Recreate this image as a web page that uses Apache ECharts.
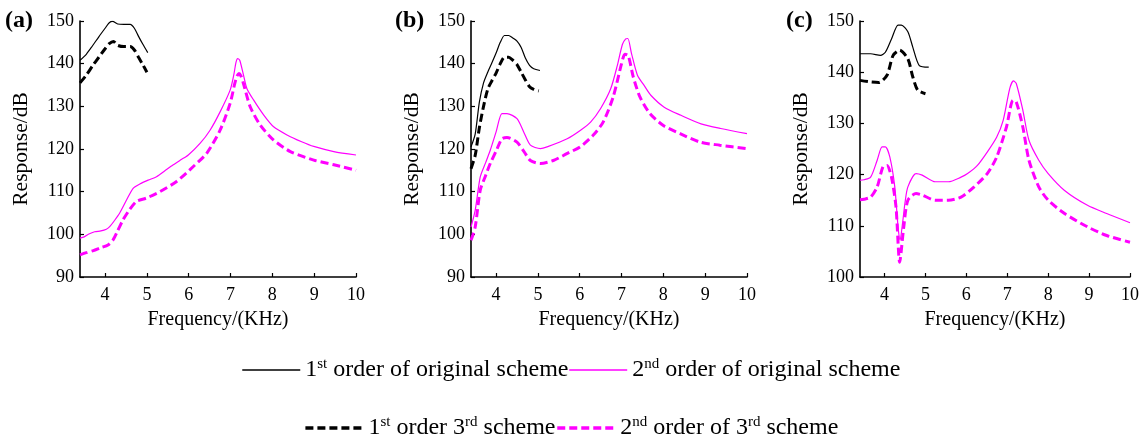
<!DOCTYPE html>
<html>
<head>
<meta charset="utf-8">
<script src="https://cdn.jsdelivr.net/npm/echarts@6/dist/echarts.min.js"></script>
<style>
html,body{margin:0;padding:0;background:#fff;}
#chart{width:1142px;height:440px;}
</style>
</head>
<body>
<div id="chart"></div>
<script>
// ---- series names (legend) ----
const nameFirstOrig = '1st order of original scheme';
const nameSecondOrig = '2nd order of original scheme';
const nameFirstThird = '1st order 3rd scheme';
const nameSecondThird = '2nd order of 3rd scheme';

const panelLabels = ['(a)', '(b)', '(c)'];
const xAxisName = 'Frequency/(KHz)';
const yAxisName = 'Response/dB';
const yRanges = [[90, 150], [90, 150], [100, 150]];

// ---- panel (a) ----
const a_firstOrig = [[3.4,140.8],[3.55,142.2],[3.7,144.2],[3.85,146.3],[4.0,148.3],[4.1,149.6],[4.18,149.9],[4.3,149.3],[4.45,149.2],[4.6,149.2],[4.7,148.3],[4.8,146.4],[4.9,144.6],[5.02,142.6]];
const a_firstThird = [[3.4,135.5],[3.55,137.3],[3.7,139.5],[3.85,141.5],[4.0,143.5],[4.1,144.7],[4.2,145.2],[4.3,144.3],[4.45,144.0],[4.6,144.0],[4.7,143.2],[4.8,141.5],[4.9,139.8],[5.0,138.0]];
const a_secondOrig = [[3.4,99.1],[3.5,99.4],[3.6,100.0],[3.75,100.6],[3.9,100.8],[4.03,101.2],[4.11,101.8],[4.23,103.3],[4.35,105.0],[4.5,107.8],[4.67,110.8],[4.83,111.8],[5.03,112.7],[5.23,113.5],[5.43,114.9],[5.63,116.3],[5.8,117.4],[5.99,118.6],[6.27,121.3],[6.51,124.4],[6.75,128.7],[6.99,133.8],[7.08,137.5],[7.13,140.3],[7.17,141.2],[7.22,140.8],[7.31,137.3],[7.39,134.2],[7.55,131.5],[7.79,128.0],[8.03,125.2],[8.35,123.3],[8.7,121.7],[8.99,120.6],[9.47,119.4],[10,118.6]];
const a_secondThird = [[3.4,95.2],[3.55,95.7],[3.72,96.2],[3.9,96.9],[4.07,97.5],[4.19,98.7],[4.3,100.8],[4.43,103.4],[4.6,106.0],[4.75,107.7],[4.99,108.5],[5.31,110.0],[5.71,112.4],[6.11,115.9],[6.43,119.0],[6.75,124.4],[6.99,130.7],[7.1,135.3],[7.15,137.0],[7.2,137.7],[7.25,137.1],[7.31,135.3],[7.47,129.9],[7.71,125.6],[8.03,122.1],[8.43,119.4],[8.99,117.4],[9.47,116.3],[10,115.0]];

// ---- panel (b) ----
const b_firstOrig = [[3.4,120.5],[3.5,123.5],[3.6,131.0],[3.7,135.5],[3.8,138.0],[3.9,140.2],[4.0,142.5],[4.1,145.0],[4.2,146.6],[4.3,146.6],[4.4,146.0],[4.5,145.3],[4.6,143.8],[4.7,141.3],[4.8,139.6],[4.9,138.8],[5.05,138.4]];
const b_firstThird = [[3.4,115.4],[3.5,118.5],[3.6,125.0],[3.7,130.0],[3.8,134.0],[3.9,136.0],[4.0,137.8],[4.1,140.0],[4.2,141.5],[4.3,141.5],[4.4,140.8],[4.5,139.8],[4.6,138.0],[4.7,136.2],[4.8,134.6],[4.9,134.0],[5.02,133.6]];
const b_secondOrig = [[3.4,101.7],[3.5,105.6],[3.62,113.4],[3.75,116.8],[3.86,119.7],[4.0,124.0],[4.14,128.3],[4.26,128.3],[4.5,127.1],[4.66,124.0],[4.82,120.9],[5.06,120.1],[5.22,120.5],[5.7,122.4],[6.02,124.4],[6.26,126.3],[6.5,129.5],[6.74,134.1],[6.9,139.6],[7.02,144.5],[7.1,145.8],[7.15,145.9],[7.24,142.3],[7.38,137.3],[7.54,134.9],[7.7,132.6],[8.02,129.8],[8.42,127.9],[8.9,125.9],[9.37,124.8],[10,123.6]];
const b_secondThird = [[3.4,98.6],[3.5,101.7],[3.62,110.3],[3.75,113.8],[3.86,116.6],[4.0,119.5],[4.14,122.4],[4.26,122.7],[4.5,121.6],[4.66,119.5],[4.82,117.3],[5.06,116.6],[5.37,117.3],[5.69,118.9],[6.01,120.5],[6.32,123.2],[6.56,126.3],[6.8,132.2],[7.0,140.0],[7.08,142.2],[7.16,141.9],[7.28,136.9],[7.44,132.2],[7.68,128.3],[8.0,125.5],[8.4,123.6],[8.88,121.6],[9.35,120.9],[10,120.1]];

// ---- panel (c) ----
const c_firstOrig = [[3.4,143.6],[3.66,143.6],[3.9,143.3],[4.02,143.9],[4.17,146.5],[4.33,149.2],[4.41,149.2],[4.57,147.9],[4.69,144.9],[4.85,141.3],[5.08,141.0]];
const c_firstThird = [[3.4,138.4],[3.66,138.1],[3.86,138.0],[4.06,139.4],[4.21,143.3],[4.37,144.3],[4.57,142.6],[4.69,139.1],[4.81,136.5],[5.0,135.8]];
const c_secondOrig = [[3.4,118.9],[3.5,119.0],[3.66,119.5],[3.82,122.8],[3.94,125.4],[4.02,125.4],[4.13,123.4],[4.25,117.6],[4.33,109.8],[4.38,107.2],[4.44,110.5],[4.5,114.5],[4.57,117.6],[4.77,120.2],[4.92,119.9],[5.24,118.6],[5.56,118.6],[5.87,119.5],[6.03,120.2],[6.27,121.8],[6.51,124.4],[6.74,127.3],[6.9,130.6],[7.06,136.8],[7.15,138.3],[7.22,137.8],[7.38,132.6],[7.53,126.7],[7.77,122.8],[8.0,120.2],[8.4,116.9],[8.96,114.0],[9.43,112.4],[10,110.6]];
const c_secondThird = [[3.4,115.1],[3.5,115.2],[3.66,115.6],[3.82,117.6],[3.96,121.5],[4.06,121.8],[4.17,119.5],[4.28,113.7],[4.37,102.9],[4.47,109.8],[4.57,115.0],[4.77,116.3],[4.92,116.0],[5.24,115.0],[5.56,115.0],[5.87,115.6],[6.19,117.6],[6.51,120.2],[6.74,123.4],[6.98,129.3],[7.14,134.5],[7.22,134.2],[7.38,129.3],[7.53,122.8],[7.77,117.6],[8.0,115.0],[8.4,112.4],[8.96,109.8],[9.43,108.1],[10,106.8]];

const panels = [
  [a_firstOrig, a_secondOrig, a_firstThird, a_secondThird],
  [b_firstOrig, b_secondOrig, b_firstThird, b_secondThird],
  [c_firstOrig, c_secondOrig, c_firstThird, c_secondThird]
];

const FONT = '"Liberation Serif", "Times New Roman", serif';
const grids = [
  {left: 80, top: 21, width: 276, height: 256},
  {left: 471, top: 21, width: 276, height: 256},
  {left: 860, top: 21, width: 277, height: 256}
];
const labelPos = [5, 395, 786];

const styles = [
  {name: nameFirstOrig, color: '#000000', width: 1.2, type: 'solid'},
  {name: nameSecondOrig, color: '#ff00ff', width: 1.2, type: 'solid'},
  {name: nameFirstThird, color: '#000000', width: 3, type: [8, 4]},
  {name: nameSecondThird, color: '#ff00ff', width: 3, type: [8, 4]}
];

const xAxes = [], yAxes = [], series = [], titles = [];
panels.forEach((p, i) => {
  xAxes.push({
    type: 'value', gridIndex: i, min: 3.4, max: 10, minInterval: 1, maxInterval: 1,
    name: xAxisName, nameLocation: 'middle', nameGap: 33,
    nameTextStyle: {fontFamily: FONT, fontSize: 20, color: '#000'},
    axisLine: {show: true, lineStyle: {color: '#000', width: 1.6}},
    axisTick: {show: true, inside: true, length: 4, lineStyle: {color: '#000', width: 1.2}},
    axisLabel: {fontFamily: FONT, fontSize: 18, color: '#000', margin: 9, showMinLabel: false},
    splitLine: {show: false}
  });
  yAxes.push({
    type: 'value', gridIndex: i, min: yRanges[i][0], max: yRanges[i][1], interval: 10,
    name: yAxisName, nameLocation: 'middle', nameGap: 48,
    nameTextStyle: {fontFamily: FONT, fontSize: 21.5, color: '#000'},
    axisLine: {show: true, lineStyle: {color: '#000', width: 1.6}},
    axisTick: {show: true, inside: true, length: 4, lineStyle: {color: '#000', width: 1.2}},
    axisLabel: {fontFamily: FONT, fontSize: 18, color: '#000', margin: 6},
    splitLine: {show: false}
  });
  p.forEach((d, k) => {
    const s = styles[k];
    series.push({
      type: 'line', name: s.name, xAxisIndex: i, yAxisIndex: i, data: d,
      symbol: 'none', smooth: 0.25, color: s.color,
      lineStyle: {color: s.color, width: s.width, type: s.type}
    });
  });
  titles.push({
    text: panelLabels[i], left: labelPos[i], top: 9, padding: 0,
    textStyle: {fontFamily: FONT, fontSize: 24, fontWeight: 'bold', color: '#000'}
  });
});

const legendText = {
  fontFamily: FONT, fontSize: 24, color: '#000', lineHeight: 28,
  rich: {
    n: {fontFamily: FONT, fontSize: 24, color: '#000', lineHeight: 28},
    s: {fontFamily: FONT, fontSize: 15, color: '#000', lineHeight: 28, padding: [0, 0, 12, 0], verticalAlign: 'bottom'}
  }
};
const fmt = name => name.split(/(\d)(st|nd|rd)/).map((t, idx) => {
  if (t === '') return '';
  if (idx % 3 === 2) return '{s|' + t + '}';
  return '{n|' + t + '}';
}).join('');
const legendItem = s => ({name: s.name, lineStyle: {color: s.color, width: s.width === 3 ? 3.5 : 1.4, type: s.type}});

const option = {
  animation: false,
  backgroundColor: '#fff',
  title: titles,
  grid: grids,
  xAxis: xAxes,
  yAxis: yAxes,
  legend: [
    {data: [legendItem(styles[0]), legendItem(styles[1])], left: 'center', top: 356, itemWidth: 58, itemHeight: 14, itemGap: 0,
     itemStyle: {opacity: 0}, formatter: fmt, textStyle: legendText, padding: 0},
    {data: [legendItem(styles[2]), legendItem(styles[3])], left: 'center', top: 414, itemWidth: 58, itemHeight: 14, itemGap: 0,
     itemStyle: {opacity: 0}, formatter: fmt, textStyle: legendText, padding: 0}
  ],
  series: series
};
const chart = echarts.init(document.getElementById('chart'), null, {renderer: 'canvas'});
chart.setOption(option);
</script>
</body>
</html>
